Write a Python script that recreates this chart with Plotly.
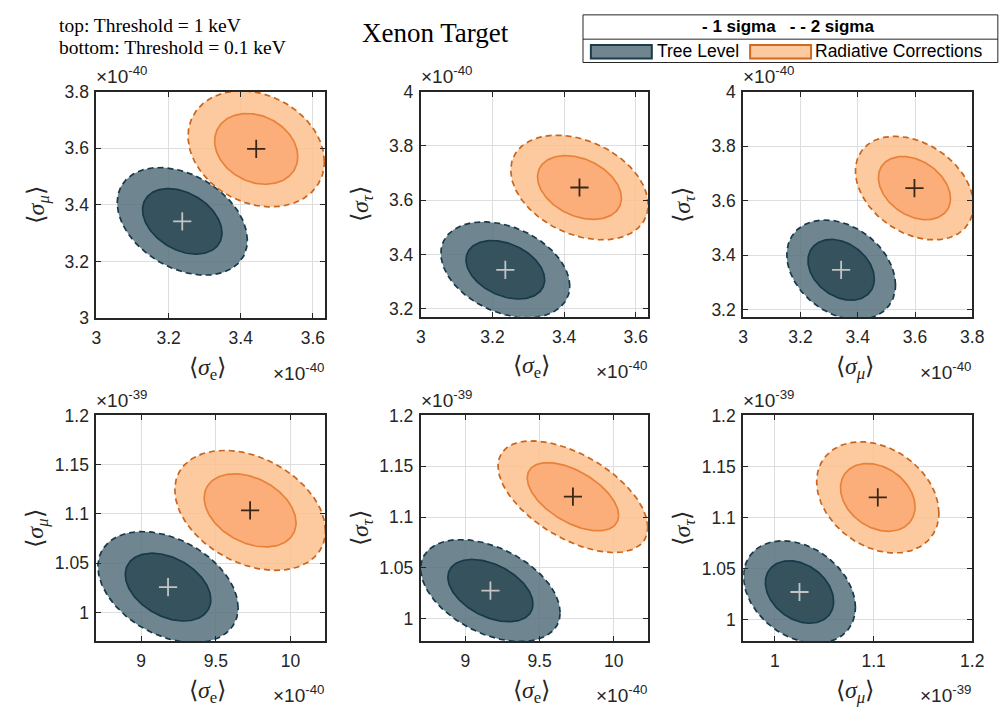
import numpy as np
import plotly.graph_objects as go

W, H = 1000, 721

# ---------------- data (values shown in units of 10^exp) ----------------
x_vars = ["e", "e", "μ", "e", "e", "μ"]
y_vars = ["μ", "τ", "τ", "μ", "τ", "τ"]
x_exp = [-40, -40, -40, -40, -40, -39]
y_exp = [-40, -40, -40, -39, -39, -39]

x_ranges = [[3.0, 3.635], [3.0, 3.634], [3.0, 3.8], [8.70, 10.235], [8.70, 10.23], [0.968, 1.2]]
y_ranges = [[3.0, 3.8], [3.171, 4.0], [3.172, 4.0], [0.971, 1.2], [0.978, 1.2], [0.979, 1.2]]
x_ticks = [[3, 3.2, 3.4, 3.6], [3, 3.2, 3.4, 3.6], [3, 3.2, 3.4, 3.6, 3.8],
           [9, 9.5, 10], [9, 9.5, 10], [1, 1.1, 1.2]]
y_ticks = [[3, 3.2, 3.4, 3.6, 3.8], [3.2, 3.4, 3.6, 3.8, 4], [3.2, 3.4, 3.6, 3.8, 4],
           [1, 1.05, 1.1, 1.15, 1.2], [1, 1.05, 1.1, 1.15, 1.2], [1, 1.05, 1.1, 1.15, 1.2]]

# Tree level: centre, sigmas, correlation
tree_cx = [3.238, 3.236, 3.342, 9.18, 9.169, 1.025]
tree_cy = [3.342, 3.344, 3.346, 1.0257, 1.0276, 1.027]
tree_sx = [0.0726, 0.0724, 0.0764, 0.189, 0.189, 0.0228]
tree_sy = [0.0764, 0.0710, 0.0736, 0.0227, 0.0202, 0.0202]
tree_rho = [-0.35, -0.34, -0.30, -0.37, -0.43, -0.30]

# Radiative corrections: centre, sigmas, correlation
rad_cx = [3.443, 3.443, 3.598, 9.73, 9.725, 1.1043]
rad_cy = [3.598, 3.647, 3.646, 1.1036, 1.120, 1.1197]
rad_sx = [0.0760, 0.0772, 0.0830, 0.203, 0.203, 0.0249]
rad_sy = [0.0824, 0.0775, 0.0765, 0.0245, 0.0221, 0.0219]
rad_rho = [-0.22, -0.33, -0.33, -0.34, -0.55, -0.28]

delta_chi2 = [6.18, 2.30]  # 2 sigma, 1 sigma (two parameters)

# ---------------- layout geometry (pixels) ----------------
panel_px = [(93, 326, 84, 317), (423, 654, 84, 315.5), (751, 984, 84, 316),
            (93, 326, 417, 649), (423, 654, 417, 649), (751, 984, 417, 649)]

def px(x):
    return x / W

def py(y):
    return 1 - y / H

TREE_FILL = ["rgba(86,113,124,0.85)", "rgba(44,73,85,0.85)"]
TREE_LINE = "#173a4a"
RAD_FILL = ["rgba(253,193,143,0.85)", "rgba(252,169,115,0.85)"]
RAD_LINE = ["#c8661e", "#e8823a"]

def ellipse(cx, cy, sx, sy, rho, k, n=200):
    t = np.linspace(0, 2 * np.pi, n)
    r = np.sqrt(k)
    x = cx + r * sx * np.cos(t)
    y = cy + r * sy * (rho * np.cos(t) + np.sqrt(1 - rho ** 2) * np.sin(t))
    return x, y

fig = go.Figure()
layout = {}
annotations = []
sans = "Liberation Sans"
serif = "Liberation Serif"
INK = "#262626"

def sub_html(v):
    return v if v == "e" else f"<i>{v}</i>"

for i in range(6):
    xa = "x" if i == 0 else f"x{i+1}"
    ya = "y" if i == 0 else f"y{i+1}"
    l, r, t, b = panel_px[i]
    for (cx, cy, sx, sy, rho, fills, lines) in [
        (tree_cx[i], tree_cy[i], tree_sx[i], tree_sy[i], tree_rho[i], TREE_FILL, [TREE_LINE, TREE_LINE]),
        (rad_cx[i], rad_cy[i], rad_sx[i], rad_sy[i], rad_rho[i], RAD_FILL, RAD_LINE),
    ]:
        for j, k in enumerate(delta_chi2):
            ex, ey = ellipse(cx, cy, sx, sy, rho, k)
            fig.add_trace(go.Scatter(
                x=ex, y=ey, xaxis=xa, yaxis=ya, mode="lines", fill="toself",
                fillcolor=fills[j],
                line=dict(color=lines[j], width=1.7, dash="6px,4px" if j == 0 else "solid"),
                hoverinfo="skip", showlegend=False))
    fig.add_trace(go.Scatter(x=[tree_cx[i]], y=[tree_cy[i]], xaxis=xa, yaxis=ya, mode="markers",
                             marker=dict(symbol="cross-thin", size=13, line=dict(color="#c4c4c4", width=1.8)),
                             hoverinfo="skip", showlegend=False))
    fig.add_trace(go.Scatter(x=[rad_cx[i]], y=[rad_cy[i]], xaxis=xa, yaxis=ya, mode="markers",
                             marker=dict(symbol="cross-thin", size=13, line=dict(color="#3a2614", width=1.8)),
                             hoverinfo="skip", showlegend=False))

    axcommon = dict(showgrid=True, gridcolor="#dedede", gridwidth=1, zeroline=False,
                    showline=True, linecolor=INK, linewidth=2, mirror="ticks",
                    ticks="inside", ticklen=5, tickcolor=INK, tickwidth=1,
                    tickfont=dict(family=sans, size=17.5, color=INK))
    layout["xaxis" if i == 0 else f"xaxis{i+1}"] = dict(
        domain=[px(l), px(r)], range=x_ranges[i], tickvals=x_ticks[i],
        anchor=ya, ticklabelstandoff=3, **axcommon)
    layout["yaxis" if i == 0 else f"yaxis{i+1}"] = dict(
        domain=[py(b), py(t)], range=y_ranges[i], tickvals=y_ticks[i],
        anchor=xa, ticklabelstandoff=2, **axcommon)

    # exponent labels
    annotations.append(dict(x=px(l - 2), y=py(t - 17), xref="paper", yref="paper",
                            text=f"×10<sup>{y_exp[i]}</sup>", showarrow=False,
                            xanchor="left", yanchor="middle",
                            font=dict(family=sans, size=19, color=INK)))
    annotations.append(dict(x=px(r + 1), y=py(b + 55), xref="paper", yref="paper",
                            text=f"×10<sup>{x_exp[i]}</sup>", showarrow=False,
                            xanchor="right", yanchor="middle",
                            font=dict(family=sans, size=19, color=INK)))
    # axis titles
    annotations.append(dict(x=px((l + r) / 2 - 3), y=py(b + 52), xref="paper", yref="paper",
                            text=f"⟨<i>σ</i><sub>{sub_html(x_vars[i])}</sub>⟩",
                            showarrow=False, xanchor="center", yanchor="middle",
                            font=dict(family=serif, size=24, color=INK)))
    annotations.append(dict(x=px(l - 60), y=py((t + b) / 2), xref="paper", yref="paper",
                            text=f"⟨<i>σ</i><sub>{sub_html(y_vars[i])}</sub>⟩",
                            showarrow=False, xanchor="center", yanchor="middle", textangle=-90,
                            font=dict(family=serif, size=24, color=INK)))

# title and notes
annotations.append(dict(x=px(438), y=py(24), xref="paper", yref="paper", text="Xenon Target",
                        showarrow=False, xanchor="center", yanchor="middle",
                        font=dict(family=serif, size=27, color="black")))
annotations.append(dict(x=px(53), y=py(16), xref="paper", yref="paper", text="top: Threshold = 1 keV",
                        showarrow=False, xanchor="left", yanchor="middle",
                        font=dict(family=serif, size=19.5, color="black")))
annotations.append(dict(x=px(53), y=py(39), xref="paper", yref="paper", text="bottom: Threshold = 0.1 keV",
                        showarrow=False, xanchor="left", yanchor="middle",
                        font=dict(family=serif, size=19.5, color="black")))

# legend box
shapes = [
    dict(type="rect", xref="paper", yref="paper", x0=px(588), x1=px(1010), y0=py(54), y1=py(5),
         line=dict(color=INK, width=1), fillcolor="white", layer="above"),
    dict(type="line", xref="paper", yref="paper", x0=px(588), x1=px(1010), y0=py(30), y1=py(30),
         line=dict(color=INK, width=1), layer="above"),
    dict(type="rect", xref="paper", yref="paper", x0=px(596), x1=px(658), y0=py(50), y1=py(36),
         line=dict(color="#1d3c4a", width=2), fillcolor="rgb(111,134,144)", layer="above"),
    dict(type="rect", xref="paper", yref="paper", x0=px(758), x1=px(820), y0=py(50), y1=py(36),
         line=dict(color="#d2691e", width=2), fillcolor="rgb(253,201,160)", layer="above"),
]
annotations.append(dict(x=px(797), y=py(17), xref="paper", yref="paper",
                        text="<b>- 1 sigma\u00a0\u00a0\u00a0- - 2 sigma</b>", showarrow=False,
                        xanchor="center", yanchor="middle",
                        font=dict(family=sans, size=17, color="black")))
annotations.append(dict(x=px(661), y=py(42), xref="paper", yref="paper", text="Tree Level",
                        showarrow=False, xanchor="left", yanchor="middle",
                        font=dict(family=sans, size=17.5, color="black")))
annotations.append(dict(x=px(822), y=py(42), xref="paper", yref="paper", text="Radiative Corrections",
                        showarrow=False, xanchor="left", yanchor="middle",
                        font=dict(family=sans, size=17.5, color="black")))

fig.update_layout(width=W, height=H, margin=dict(l=0, r=0, t=0, b=0),
                  paper_bgcolor="white", plot_bgcolor="white",
                  showlegend=False, annotations=annotations, shapes=shapes, **layout)

fig.write_html("out.html")
